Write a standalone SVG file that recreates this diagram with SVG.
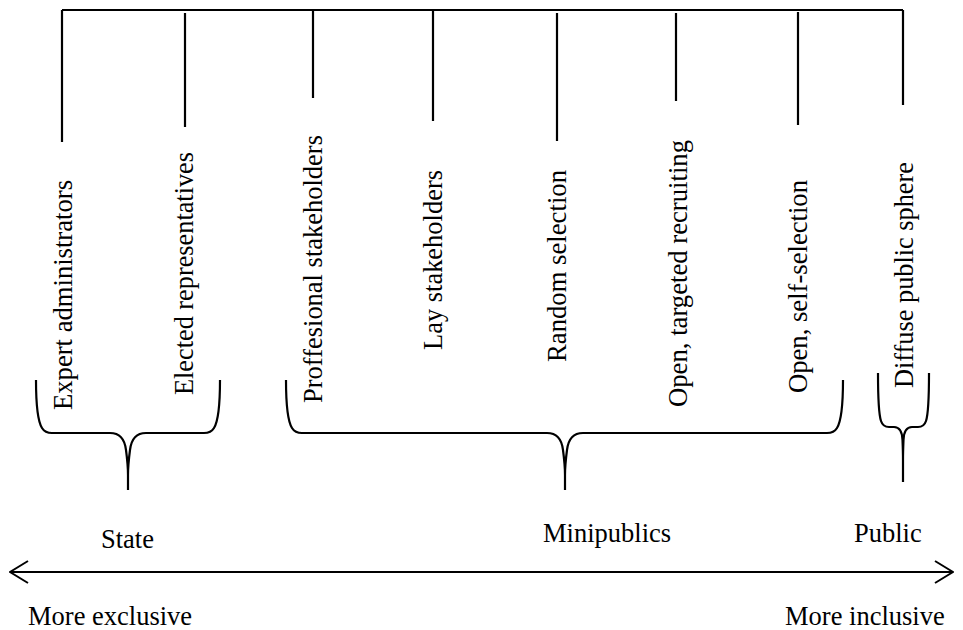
<svg xmlns="http://www.w3.org/2000/svg" width="963" height="630" viewBox="0 0 963 630">
<style>
.ln{stroke:#000;stroke-width:2.2;fill:none;stroke-linecap:butt}
.br{stroke:#000;stroke-width:2.2;fill:none;stroke-linejoin:round}
.t{font-family:"Liberation Serif","Times New Roman",serif;font-size:26.5px;fill:#000}
</style>
<defs>
<marker id="ah" viewBox="0 0 20 24" refX="19" refY="12" markerWidth="20" markerHeight="24" markerUnits="userSpaceOnUse" orient="auto-start-reverse">
<path d="M1,1 L19,12 L1,23" fill="none" stroke="#000" stroke-width="2"/>
</marker>
</defs>
<rect width="963" height="630" fill="#fff"/>
<g id="connectors">
<path class="ln" d="M62,10 H903 M62,10 V142 M185,13 V127 M313,10 V98 M433,10 V121 M557,13 V141 M676,13 V101 M798,12 V125 M903,10 V105"/>
<path class="ln" d="M10,572 H953" marker-start="url(#ah)" marker-end="url(#ah)"/>
</g>
<g id="brace-state">
<path class="br" d="M36,380 C36,400 37,420 42,428 Q45,433 52,433 L110,433 Q124,433 126,450 Q128,465 128,475 L128,490 M220,380 C220,400 219,420 214,428 Q211,433 204,433 L146,433 Q132,433 130,450 Q128,465 128,475"/>
</g>
<g id="brace-minipublics">
<path class="br" d="M286,380 C286,400 287,420 292,428 Q295,433 302,433 L547,433 Q561,433 563,450 Q565,465 565,475 L565,490 M843,380 C843,400 842,420 837,428 Q834,433 827,433 L583,433 Q569,433 567,450 Q565,465 565,475"/>
</g>
<g id="brace-public">
<path class="br" d="M878,373 C878,392 878,412 881,421 Q883,427 889,427 L894,427 Q902,427 902.5,440 Q903,452 903,460 L903,482 M929,373 C929,392 929,412 926,421 Q924,427 918,427 L912,427 Q904,427 903.5,440 Q903,452 903,460"/>
</g>
<g id="node-expert"><text class="t" transform="translate(71.5,410) rotate(-90)" textLength="230" lengthAdjust="spacingAndGlyphs">Expert administrators</text></g>
<g id="node-elected"><text class="t" transform="translate(193,395) rotate(-90)" textLength="243" lengthAdjust="spacingAndGlyphs">Elected representatives</text></g>
<g id="node-proffesional"><text class="t" transform="translate(322,403) rotate(-90)" textLength="268" lengthAdjust="spacingAndGlyphs">Proffesional stakeholders</text></g>
<g id="node-lay"><text class="t" transform="translate(442,350) rotate(-90)" textLength="180" lengthAdjust="spacingAndGlyphs">Lay stakeholders</text></g>
<g id="node-random"><text class="t" transform="translate(566,362) rotate(-90)" textLength="192" lengthAdjust="spacingAndGlyphs">Random selection</text></g>
<g id="node-targeted"><text class="t" transform="translate(686.5,407) rotate(-90)" textLength="267" lengthAdjust="spacingAndGlyphs">Open, targeted recruiting</text></g>
<g id="node-self"><text class="t" transform="translate(807,393) rotate(-90)" textLength="213" lengthAdjust="spacingAndGlyphs">Open, self-selection</text></g>
<g id="node-diffuse"><text class="t" transform="translate(913,388) rotate(-90)" textLength="226" lengthAdjust="spacingAndGlyphs">Diffuse public sphere</text></g>
<g id="label-state"><text class="t" x="101" y="548">State</text></g>
<g id="label-minipublics"><text class="t" x="543" y="542">Minipublics</text></g>
<g id="label-public"><text class="t" x="854" y="542">Public</text></g>
<g id="label-exclusive"><text class="t" x="28" y="625">More exclusive</text></g>
<g id="label-inclusive"><text class="t" x="785" y="625">More inclusive</text></g>
</svg>
